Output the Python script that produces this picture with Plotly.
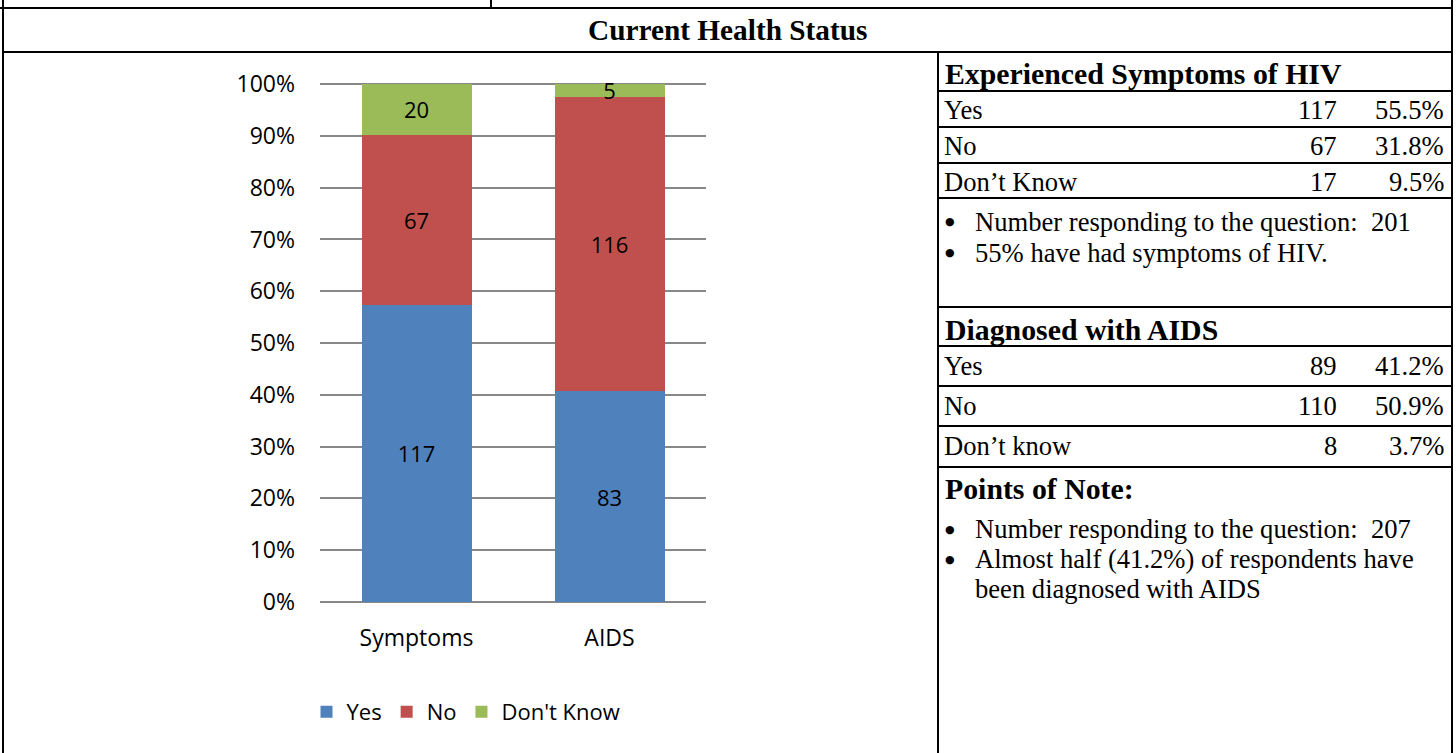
import plotly.graph_objects as go

W, H = 1456, 753

# ---- chart data ----
categories = ["Symptoms", "AIDS"]
yes_vals = [117, 83]
no_vals = [67, 116]
dk_vals = [20, 5]
y_tickvals = [0, 10, 20, 30, 40, 50, 60, 70, 80, 90, 100]
y_ticktext = ["0%", "10%", "20%", "30%", "40%", "50%",
              "60%", "70%", "80%", "90%", "100%"]

# ---- table data ----
symptom_rows = ["Yes", "No", "Don’t Know"]
symptom_counts = ["117", "67", "17"]
symptom_pcts = ["55.5%", "31.8%", "9.5%"]
symptom_notes = ["Number responding to the question:  201",
                 "55% have had symptoms of HIV."]

aids_rows = ["Yes", "No", "Don’t know"]
aids_counts = ["89", "110", "8"]
aids_pcts = ["41.2%", "50.9%", "3.7%"]
aids_notes = ["Number responding to the question:  207",
              "Almost half (41.2%) of respondents have",
              "been diagnosed with AIDS"]

BLUE, RED, GREEN = "#4F81BD", "#C0504D", "#9BBB59"
GRID = "#888888"
SANS = "Open Sans"
SERIF = "Liberation Serif"


def px(x):
    return x / W


def py(y):
    return 1 - y / H


fig = go.Figure()
for name, vals, col in [("Yes", yes_vals, BLUE), ("No", no_vals, RED),
                        ("Don't Know", dk_vals, GREEN)]:
    fig.add_trace(go.Bar(
        x=categories, y=vals, name=name, marker_color=col,
        marker_line_width=0,
        text=[str(v) for v in vals], textposition="inside", textangle=0,
        insidetextanchor="middle", constraintext="none",
        textfont=dict(color="black", size=22, family=SANS),
    ))

# ---- frame lines ----
shapes = []


def hline(y, x0, x1, w=2):
    shapes.append(dict(type="line", xref="paper", yref="paper",
                       x0=px(x0), x1=px(x1), y0=py(y), y1=py(y),
                       line=dict(color="black", width=w)))


def vline(x, y0, y1, w=2):
    shapes.append(dict(type="line", xref="paper", yref="paper",
                       x0=px(x), x1=px(x), y0=py(y0), y1=py(y1),
                       line=dict(color="black", width=w)))


hline(8, 0, 1453)
hline(52, 2, 1453)
vline(3, 0, 753)
vline(1452, 0, 753)
vline(491, 0, 8)
vline(938, 52, 753)
for yy in [91, 127, 163, 198, 307, 346, 386, 426, 467]:
    hline(yy, 938, 1453)

# ---- texts ----
ann = []


def txt(s, x, y, size=26.6, bold=False, anchor="left", family=SERIF):
    ann.append(dict(text=f"<b>{s}</b>" if bold else s, x=px(x), y=py(y),
                    xref="paper", yref="paper", showarrow=False,
                    xanchor=anchor, yanchor="middle",
                    font=dict(family=family, size=size, color="black")))


def bullet(x, y):
    txt("●", x, y, size=11, family="DejaVu Sans", anchor="center")


txt("Current Health Status", 727, 30, size=29.3, bold=True, anchor="center")

txt("Experienced Symptoms of HIV", 943, 73, size=29.8, bold=True)
for i, (r, c, p) in enumerate(zip(symptom_rows, symptom_counts, symptom_pcts)):
    yy = 110 + i * 36
    txt(r, 942, yy)
    txt(c, 1339, yy, anchor="right")
    txt(p, 1446, yy, anchor="right")
for i, n in enumerate(symptom_notes):
    yy = 222 + i * 31
    bullet(950, yy)
    txt(n, 973, yy)

txt("Diagnosed with AIDS", 943, 329, size=29.8, bold=True)
for i, (r, c, p) in enumerate(zip(aids_rows, aids_counts, aids_pcts)):
    yy = 366 + i * 40
    txt(r, 942, yy)
    txt(c, 1339, yy, anchor="right")
    txt(p, 1446, yy, anchor="right")
txt("Points of Note:", 943, 488, size=29.8, bold=True)
for i, n in enumerate(aids_notes):
    yy = 529 + i * 30
    if i < 2:
        bullet(950, yy)
    txt(n, 973, yy)

fig.update_layout(
    width=W, height=H,
    margin=dict(l=0, r=0, t=0, b=0, autoexpand=False),
    paper_bgcolor="white", plot_bgcolor="white",
    barmode="stack", barnorm="percent", bargap=0.43,
    font=dict(family=SANS, size=22, color="black"),
    xaxis=dict(domain=[px(320), px(706)], showgrid=False, showline=False,
               ticks="", ticklabelstandoff=20, automargin=False,
               tickfont=dict(size=23, family=SANS)),
    # range slightly above 100 so the top gridline is not clipped
    yaxis=dict(domain=[py(602), py(82.5)], range=[0, 100.3],
               tickmode="array", tickvals=y_tickvals, ticktext=y_ticktext,
               showgrid=True, gridcolor=GRID,
               gridwidth=1.5, zeroline=True, zerolinecolor=GRID,
               zerolinewidth=1.5, showline=False, ticks="", automargin=False,
               ticklabelstandoff=24, tickfont=dict(size=23, family=SANS)),
    legend=dict(orientation="h", x=px(466), xanchor="center",
                y=py(712), yanchor="middle", font=dict(size=22, family=SANS),
                itemwidth=30, traceorder="normal"),
    shapes=shapes, annotations=ann,
)

fig.write_html("out.html", config={"displayModeBar": False},
               post_script="document.body.style.margin='0';")
